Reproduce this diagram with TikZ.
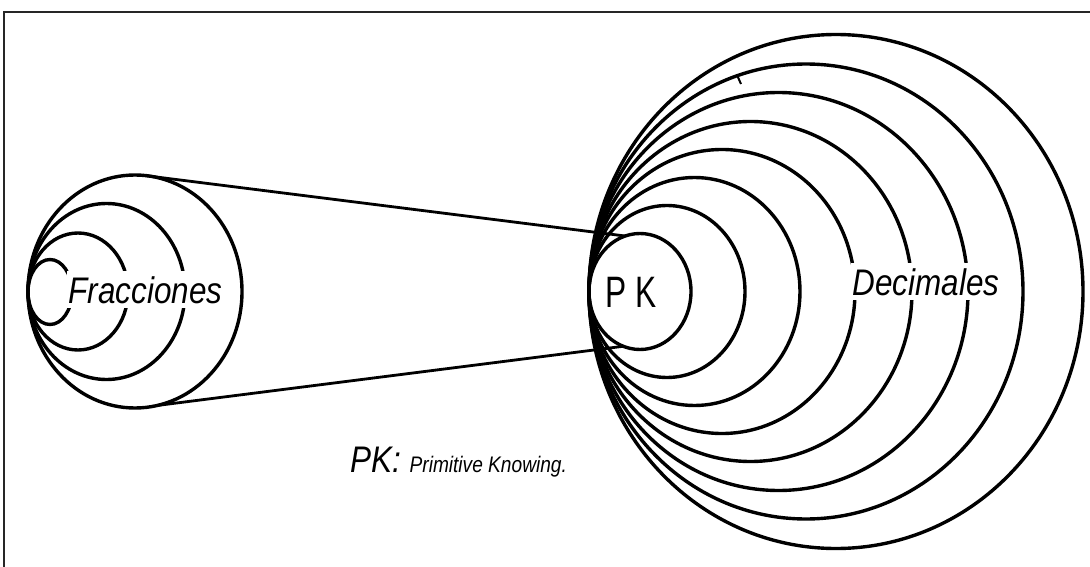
\documentclass[tikz,border=0pt]{standalone}
\usepackage{graphicx}
\usepackage{fontspec}
\newfontfamily\arfont{Liberation Sans}
\usetikzlibrary{shapes.geometric}
\tikzset{
  ring/.style={ellipse, draw, line width=3.4pt, inner sep=0pt, outer sep=0pt},
  link/.style={line width=2.8pt, line cap=round},
  lbl/.style={font=\arfont\itshape, inner sep=0pt},
  framestyle/.style={line width=1.8pt, black!85},
}
\begin{document}
\begin{tikzpicture}[x=1pt,y=-1pt]
\useasboundingbox (0,0) rectangle (1090,567);
% frame
\coordinate (f1) at (4,567);
\coordinate (f2) at (4,12);
\coordinate (f3) at (1090,12);
\draw[framestyle] (f1) -- (f2) -- (f3);
% left group
\node[ring, minimum width=214pt, minimum height=233pt] (L1) at (135,291.5) {};
\node[ring, minimum width=157pt, minimum height=176pt] (L2) at (106.5,291.5) {};
\node[ring, minimum width=100pt, minimum height=117pt] (L3) at (78,291.5) {};
\node[ring, minimum width=44pt, minimum height=65pt] (L4) at (50,292) {};
% right group
\node[ring, minimum width=102pt, minimum height=116pt] (R1) at (640,291.5) {};
\node[ring, minimum width=156pt, minimum height=172pt] (R2) at (667,291.5) {};
\node[ring, minimum width=211pt, minimum height=228pt] (R3) at (694.5,291.5) {};
\node[ring, minimum width=266pt, minimum height=284pt] (R4) at (722,291.5) {};
\node[ring, minimum width=323pt, minimum height=340pt] (R5) at (750.5,291.5) {};
\node[ring, minimum width=379pt, minimum height=398pt] (R6) at (778.5,291.5) {};
\node[ring, minimum width=434pt, minimum height=455pt] (R7) at (806,291.5) {};
\node[ring, minimum width=494pt, minimum height=514pt] (R8) at (836,291.5) {};
% small tick
\coordinate (t1) at (737,75);
\coordinate (t2) at (741,84);
\draw[line width=2pt] (t1) -- (t2);
% connecting lines
\draw[link] (L1.86) -- (R1.105);
\draw[link] (L1.281) -- (R1.253);
% texts
\node[lbl, fill=white, inner xsep=2pt, inner ysep=5pt, anchor=base] (frac) at (145.5,303)
  {\fontsize{37}{40}\selectfont\scalebox{0.85}[1]{Fracciones}};
\node[lbl, fill=white, inner xsep=2pt, inner ysep=5pt, anchor=base] (dec) at (926,295)
  {\fontsize{37}{40}\selectfont\scalebox{0.85}[1]{Decimales}};
\node[font=\arfont, inner sep=0pt, anchor=base] (pk) at (631.5,307)
  {\fontsize{44}{48}\selectfont\scalebox{0.72}[1]{P K}};
\node[lbl, anchor=base west] (legend) at (350,472)
  {\scalebox{0.85}[1]{\fontsize{37}{40}\selectfont PK: \fontsize{22.5}{26}\selectfont Primitive Knowing.}};
\end{tikzpicture}
\end{document}
